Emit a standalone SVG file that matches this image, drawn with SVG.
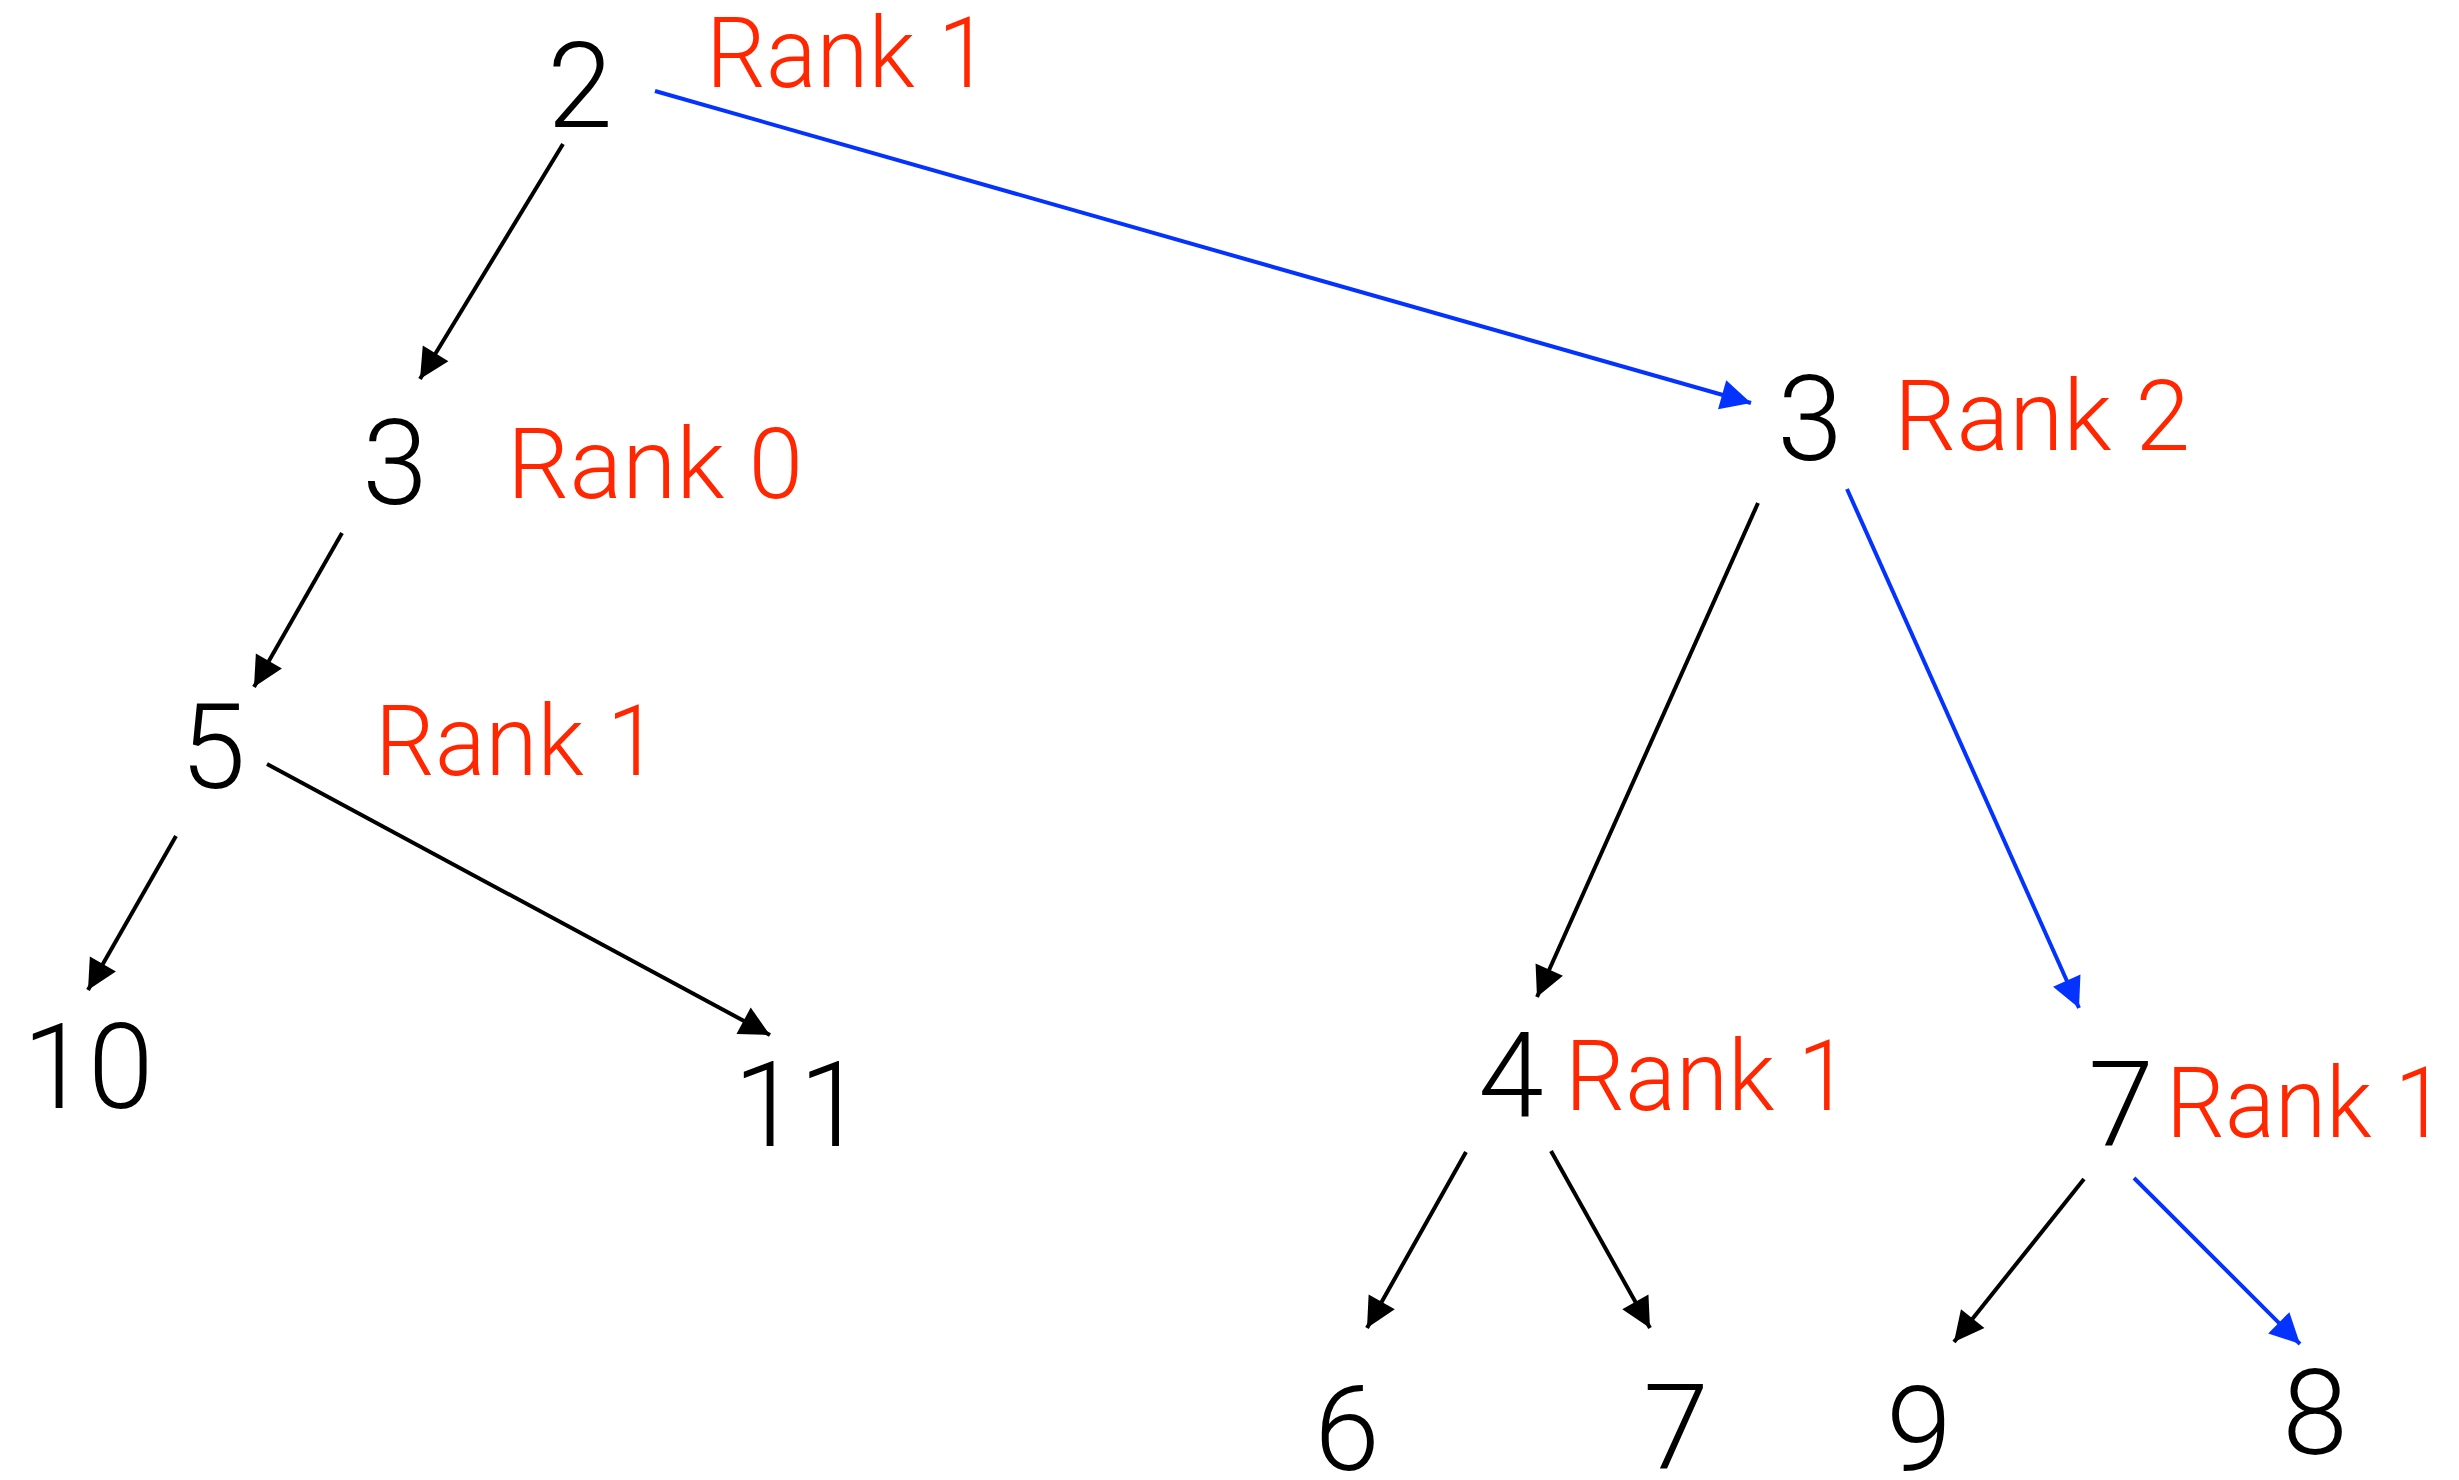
<svg xmlns="http://www.w3.org/2000/svg" width="2459" height="1480" viewBox="0 0 2459 1480">
<defs>
<style>
.n{font-family:Roboto,"Liberation Sans",sans-serif;font-weight:300;font-size:118px;fill:#000;text-anchor:middle}
.r{font-family:Roboto,"Liberation Sans",sans-serif;font-weight:300;font-size:98px;fill:#FF2600}
.k{stroke:#000;stroke-width:4;fill:none}
.b{stroke:#0433FF;stroke-width:4;fill:none}
</style>
<marker id="ak" markerUnits="userSpaceOnUse" markerWidth="40" markerHeight="40" viewBox="-30 -15 32 30" refX="0" refY="0" orient="auto"><path d="M0,0 L-24,-12 L-24,12 Z" fill="#000"/></marker>
<marker id="ab" markerUnits="userSpaceOnUse" markerWidth="40" markerHeight="40" viewBox="-30 -15 32 30" refX="0" refY="0" orient="auto"><path d="M0,0 L-24,-12 L-24,12 Z" fill="#0433FF"/></marker>
</defs>
<rect width="2459" height="1480" fill="#fff"/>
<g id="connectors">
<line class="k" x1="563" y1="144" x2="420" y2="379" marker-end="url(#ak)"/>
<line class="b" x1="655" y1="91" x2="1751" y2="403" marker-end="url(#ab)"/>
<line class="k" x1="342" y1="533" x2="254" y2="687" marker-end="url(#ak)"/>
<line class="k" x1="176" y1="836" x2="88" y2="990" marker-end="url(#ak)"/>
<line class="k" x1="267" y1="764" x2="770" y2="1035" marker-end="url(#ak)"/>
<line class="k" x1="1758" y1="503" x2="1537" y2="997" marker-end="url(#ak)"/>
<line class="b" x1="1847" y1="489" x2="2079" y2="1008" marker-end="url(#ab)"/>
<line class="k" x1="1466" y1="1152" x2="1367" y2="1328" marker-end="url(#ak)"/>
<line class="k" x1="1551" y1="1151" x2="1650" y2="1328" marker-end="url(#ak)"/>
<line class="k" x1="2084" y1="1179" x2="1954" y2="1342" marker-end="url(#ak)"/>
<line class="b" x1="2134" y1="1178" x2="2300" y2="1344" marker-end="url(#ab)"/>
</g>
<g id="node-2"><text class="n" x="580" y="127">2</text><text class="r" x="706" y="87" textLength="284" lengthAdjust="spacingAndGlyphs">Rank 1</text></g>
<g id="node-3L"><text class="n" x="395" y="504">3</text><text class="r" x="507" y="498" textLength="296" lengthAdjust="spacingAndGlyphs">Rank 0</text></g>
<g id="node-5"><text class="n" x="213" y="788">5</text><text class="r" x="375" y="775" textLength="284" lengthAdjust="spacingAndGlyphs">Rank 1</text></g>
<g id="node-10"><text class="n" x="88" y="1108">10</text></g>
<g id="node-11"><text class="n" x="799" y="1146">11</text></g>
<g id="node-3R"><text class="n" x="1810" y="460">3</text><text class="r" x="1894" y="450" textLength="296" lengthAdjust="spacingAndGlyphs">Rank 2</text></g>
<g id="node-4"><text class="n" x="1511" y="1116">4</text><text class="r" x="1565" y="1110" textLength="285" lengthAdjust="spacingAndGlyphs">Rank 1</text></g>
<g id="node-7R"><text class="n" x="2121" y="1146">7</text><text class="r" x="2166" y="1137" textLength="280" lengthAdjust="spacingAndGlyphs">Rank 1</text></g>
<g id="node-6"><text class="n" x="1347" y="1470">6</text></g>
<g id="node-7B"><text class="n" x="1676" y="1469">7</text></g>
<g id="node-9"><text class="n" x="1919" y="1470">9</text></g>
<g id="node-8"><text class="n" x="2315" y="1454">8</text></g>
</svg>
